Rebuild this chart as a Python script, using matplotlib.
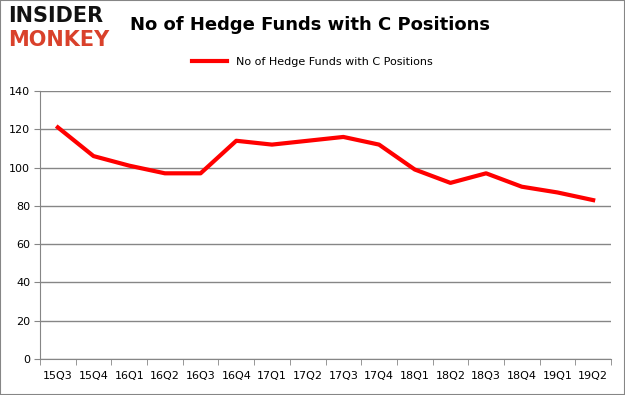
import matplotlib
matplotlib.use("Agg")
import matplotlib.pyplot as plt
from matplotlib.patches import Rectangle
import numpy as np

quarters = ["15Q3", "15Q4", "16Q1", "16Q2", "16Q3", "16Q4", "17Q1", "17Q2",
            "17Q3", "17Q4", "18Q1", "18Q2", "18Q3", "18Q4", "19Q1", "19Q2"]
funds = [121, 106, 101, 97, 97, 114, 112, 114, 116, 112, 99, 92, 97, 90, 87, 83]
yticks = [0, 20, 40, 60, 80, 100, 120, 140]
title = "No of Hedge Funds with C Positions"
series_name = "No of Hedge Funds with C Positions"

fig = plt.figure(figsize=(6.25, 3.95), dpi=100)
ax = fig.add_axes([40/625, 1-359/395, (611-40)/625, (359-91)/395])

x = np.arange(len(quarters))
line, = ax.plot(x, funds, color="#ff0000", lw=3.0, solid_joinstyle="round",
                label=series_name)
ax.set_xlim(-0.5, len(quarters)-0.5)
ax.set_ylim(0, 140)
ax.set_yticks(yticks)
ax.set_xticks(x)
ax.set_xticklabels(quarters)
ax.set_xticks(np.arange(-0.5, len(quarters)), minor=True)
ax.tick_params(axis="x", which="major", length=0, pad=9, labelsize=8, colors="#000000")
ax.tick_params(axis="x", which="minor", length=4, color="#868686")
ax.tick_params(axis="y", length=4, color="#868686", labelsize=8, pad=3)
ax.grid(axis="y", color="#868686", lw=1)
ax.set_axisbelow(True)
for s in ["top", "right"]:
    ax.spines[s].set_visible(False)
for s in ["left", "bottom"]:
    ax.spines[s].set_color("#868686")

fig.text(310/625, 1-25/395, title, ha="center", va="center", fontsize=13, fontweight="bold")
fig.legend(handles=[line], loc="center", bbox_to_anchor=(0.5, 1-62/395), frameon=False,
           fontsize=8, handlelength=3.2)

fig.text(8/625, 1-16/395, "INSIDER", fontsize=15, fontweight="bold", color="#111111",
         va="center", ha="left", family="DejaVu Sans")
fig.text(8/625, 1-40/395, "MONKEY", fontsize=15, fontweight="bold", color="#d9412b",
         va="center", ha="left", family="DejaVu Sans")

fig.patches.append(Rectangle((0, 0), 1, 1, transform=fig.transFigure, fill=False,
                             edgecolor="#868686", lw=1.5))
fig.savefig("out.png", dpi=100)
